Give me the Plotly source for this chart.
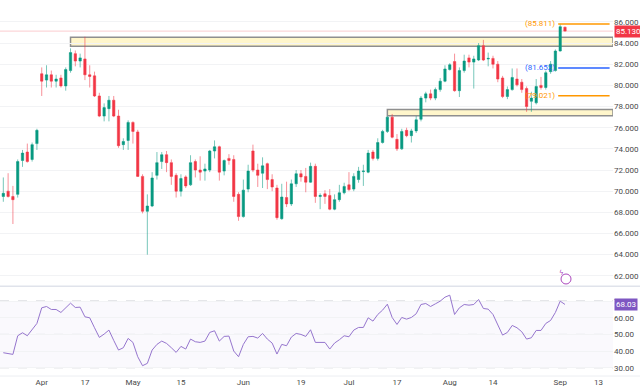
import pandas as pd
import plotly.graph_objects as go

# ---------------- data ----------------
dates = [d.strftime("%Y-%m-%d") for d in pd.bdate_range("2023-03-22", "2023-09-04")
         if d.strftime("%Y-%m-%d") != "2023-04-07"]

opens = [69.5, 70.0, 69.5, 69.7, 72.9, 73.7, 73.0, 74.5, 81.1, 80.5,
         81.0, 80.4, 80.7, 79.95, 81.4, 83.0, 82.3, 82.5, 81.0, 80.9,
         79.0, 77.1, 77.8, 78.6, 77.1, 74.4, 74.8, 76.5, 75.6, 71.4,
         68.1, 68.6, 71.5, 72.8, 73.45, 72.7, 71.5, 70.0, 71.35, 70.6,
         72.8, 72.0, 71.9, 72.0, 73.8, 74.2, 71.9, 73.1, 73.0, 69.7,
         67.6, 70.2, 73.8, 72.0, 71.7, 72.6, 71.1, 70.3, 67.4, 69.4,
         68.8, 70.7, 71.65, 71.4, 70.85, 72.35, 69.5, 69.75, 69.6, 68.3,
         69.2, 69.85, 70.6, 70.2, 71.1, 71.85, 71.8, 73.7, 73.1, 74.6,
         75.65, 77.0, 74.9, 74.0, 75.75, 75.25, 75.7, 76.8, 78.8, 79.2,
         78.8, 79.6, 80.4, 81.5, 82.25, 79.5, 81.4, 82.6, 82.2, 82.4,
         83.75, 82.5, 82.55, 82.0, 80.7, 78.95, 79.6, 80.6, 80.3, 79.7,
         78.5, 78.35, 80.0, 79.8, 81.3, 81.4, 83.25, 85.5]
highs = [71.3, 71.7, 70.5, 73.0, 73.9, 74.5, 74.6, 75.9, 81.7, 81.9,
         81.4, 81.0, 81.0, 81.7, 83.5, 83.3, 83.0, 84.6, 81.9, 81.3,
         79.3, 78.3, 79.0, 79.0, 77.7, 75.0, 76.7, 76.6, 75.8, 71.6,
         69.7, 71.8, 73.7, 73.7, 73.8, 73.0, 71.7, 71.6, 71.5, 73.4,
         73.0, 73.3, 72.6, 73.9, 74.8, 74.3, 73.0, 73.5, 73.4, 69.9,
         71.1, 72.5, 74.4, 72.6, 73.2, 72.7, 71.6, 70.6, 70.7, 70.9,
         71.1, 72.0, 72.0, 72.2, 72.7, 72.6, 69.8, 70.1, 70.2, 69.7,
         70.6, 70.8, 71.8, 71.7, 72.3, 72.5, 73.9, 73.9, 75.0, 75.8,
         77.1, 77.3, 75.4, 75.9, 76.0, 75.9, 77.1, 79.0, 79.4, 79.6,
         79.8, 80.7, 81.9, 82.1, 83.0, 81.7, 82.9, 82.9, 82.8, 84.0,
         84.3, 83.1, 82.8, 82.3, 80.9, 79.9, 81.6, 81.6, 80.6, 79.9,
         79.4, 80.6, 80.8, 81.4, 82.3, 83.4, 85.811, 85.55]
lows = [69.0, 69.4, 66.9, 69.4, 72.3, 72.7, 72.8, 73.9, 79.0, 79.8,
        79.8, 79.8, 79.8, 79.5, 81.2, 81.8, 81.7, 80.5, 79.8, 78.9,
        77.0, 76.6, 76.6, 77.0, 74.1, 73.9, 73.9, 74.5, 71.35, 67.9,
        64.0, 68.5, 71.1, 72.1, 71.8, 70.6, 69.4, 69.5, 70.3, 70.5,
        71.3, 71.0, 71.0, 71.8, 73.1, 71.0, 71.5, 72.5, 69.0, 67.2,
        67.5, 69.9, 71.8, 70.4, 70.3, 70.2, 70.0, 67.3, 67.3, 68.5,
        68.6, 70.4, 70.9, 69.9, 70.8, 68.9, 68.3, 68.8, 68.2, 68.2,
        69.0, 69.7, 70.0, 70.0, 70.8, 70.5, 71.7, 72.9, 72.9, 74.5,
        75.5, 75.0, 73.8, 73.9, 75.1, 74.6, 75.5, 76.6, 78.4, 78.6,
        78.6, 79.4, 80.3, 81.4, 79.4, 78.9, 81.2, 81.7, 79.7, 82.3,
        82.3, 81.8, 81.6, 80.3, 78.8, 78.7, 79.5, 79.9, 79.3, 77.5,
        77.5, 78.2, 79.6, 79.6, 81.1, 81.3, 83.2, 85.1]
closes = [69.8, 69.5, 69.2, 72.8, 73.6, 72.8, 74.4, 75.75, 80.4, 81.0,
          80.4, 80.6, 79.95, 81.5, 83.1, 82.3, 82.6, 81.0, 80.85, 79.0,
          77.1, 77.9, 78.6, 77.1, 74.3, 74.7, 76.5, 75.65, 71.4, 68.1,
          68.6, 71.25, 72.7, 73.45, 72.7, 71.4, 70.0, 71.2, 70.5, 72.7,
          72.0, 71.8, 72.1, 73.8, 74.2, 71.8, 72.9, 72.9, 69.5, 67.6,
          70.1, 71.9, 72.0, 71.5, 72.4, 71.1, 70.4, 67.5, 69.45, 68.8,
          70.7, 71.65, 71.35, 70.85, 72.35, 69.5, 69.6, 69.5, 68.3, 69.2,
          69.85, 70.45, 70.15, 71.4, 71.9, 71.9, 73.6, 73.1, 74.6, 75.65,
          77.0, 75.1, 74.0, 75.65, 75.25, 75.7, 76.75, 78.8, 79.2, 78.8,
          79.6, 80.4, 81.55, 81.95, 79.5, 81.4, 82.3, 82.2, 82.5, 83.75,
          82.4, 82.55, 82.0, 80.6, 78.95, 79.6, 80.75, 80.05, 79.6, 78.0,
          78.8, 79.9, 79.8, 81.2, 82.0, 83.25, 85.55, 85.13]
rsi = [39.0, 38.6, 38.0, 49.2, 51.0, 49.2, 53.2, 56.6, 66.0, 66.8,
       65.0, 65.0, 63.2, 66.0, 68.8, 66.2, 66.4, 60.6, 60.0, 54.0,
       48.2, 50.2, 52.6, 46.4, 40.6, 42.0, 47.6, 45.2, 36.6, 31.2,
       32.6, 40.6, 44.0, 46.0, 44.6, 42.0, 39.2, 42.8, 41.2, 47.2,
       45.6, 45.2, 46.0, 51.2, 52.2, 46.0, 48.8, 49.0, 40.0, 36.6,
       44.0, 48.6, 48.8, 47.8, 50.6, 47.2, 44.8, 38.2, 44.0, 43.2,
       48.4, 50.6, 50.0, 48.8, 52.8, 45.2, 45.2, 45.2, 41.2, 44.8,
       46.8, 49.2, 48.6, 52.6, 54.2, 54.2, 60.0, 58.0, 62.0, 64.6,
       68.2, 60.2, 56.0, 60.2, 59.2, 60.2, 62.4, 68.0, 68.6, 66.8,
       68.4, 70.0, 72.4, 73.6, 62.0, 66.0, 68.0, 67.6, 68.0, 71.0,
       65.6, 65.2, 62.0, 56.0, 49.6, 51.2, 55.4, 54.0, 51.6, 47.2,
       48.0, 52.4, 52.4, 56.6, 58.4, 63.2, 70.0, 68.03]

tick_dates = ["2023-04-03", "2023-04-17", "2023-05-01", "2023-05-15", "2023-06-01",
              "2023-06-19", "2023-07-03", "2023-07-17", "2023-08-01", "2023-08-14",
              "2023-09-01", "2023-09-13"]
tick_labels = ["Apr", "17", "May", "15", "Jun", "19", "Jul", "17", "Aug", "14", "Sep", "13"]

zone_upper = (83.7, 84.55)
zone_upper_start = "2023-04-12"
zone_lower = (77.12, 77.72)
zone_lower_start = "2023-07-13"
levels = [85.811, 81.652, 79.021]
level_colors = ["#FF9800", "#2962FF", "#FF9800"]
level_start = "2023-08-31 14:00"
level_end = "2023-09-15 07:00"
last_price = 85.13
last_rsi = 68.03

x_range = ["2023-03-21 07:26", "2023-09-18 00:00"]

GREEN = "#089981"
RED = "#F23645"
TXT = "#4a4a4a"
FONT = "Roboto"

fig = go.Figure()

fig.add_trace(go.Candlestick(
    x=dates, open=opens, high=highs, low=lows, close=closes,
    increasing=dict(line=dict(color="rgba(8,153,129,0.55)", width=1), fillcolor=GREEN),
    decreasing=dict(line=dict(color="rgba(242,54,69,0.55)", width=1), fillcolor=RED),
    whiskerwidth=0, xaxis="x", yaxis="y", showlegend=False, hoverinfo="skip"))

fig.add_trace(go.Scatter(x=dates, y=rsi, mode="lines",
                         line=dict(color="#9575CD", width=1),
                         xaxis="x2", yaxis="y2", showlegend=False, hoverinfo="skip"))

shapes = []
shapes.append(dict(type="rect", xref="x2 domain", yref="y2", x0=0, x1=1, y0=30, y1=70,
                   fillcolor="rgba(126,87,194,0.035)", line=dict(width=0), layer="below"))
for lv in (70, 50, 30):
    shapes.append(dict(type="line", xref="x2 domain", yref="y2", x0=0, x1=1, y0=lv, y1=lv,
                       line=dict(color="#b2b5be", width=1, dash="dash"), layer="below"))
for (lo, hi), start in ((zone_upper, zone_upper_start), (zone_lower, zone_lower_start)):
    shapes.append(dict(type="rect", xref="x", yref="y", x0=start, x1=x_range[1], y0=lo, y1=hi,
                       fillcolor="rgba(255,238,160,0.55)", line=dict(color="#8f8f8f", width=1.5),
                       layer="below"))
shapes.append(dict(type="line", xref="x domain", yref="y", x0=0, x1=1, y0=last_price, y1=last_price,
                   line=dict(color="rgba(242,54,69,0.25)", width=1), layer="below"))
for lv, col in zip(levels, level_colors):
    shapes.append(dict(type="line", xref="x", yref="y", x0=level_start, x1=level_end, y0=lv, y1=lv,
                       line=dict(color=col, width=1.5)))
shapes.append(dict(type="line", xref="paper", yref="paper", x0=0, x1=1.05, y0=0.2385, y1=0.2385,
                   line=dict(color="#e0e3eb", width=1.5)))
shapes.append(dict(type="line", xref="paper", yref="paper", x0=0, x1=1.05, y0=0, y1=0,
                   line=dict(color="#eceef2", width=1)))
shapes.append(dict(type="circle", xref="paper", yref="paper", x0=0.9152, x1=0.9315,
                   y0=0.2447, y1=0.2713, line=dict(color="#AB47BC", width=1), fillcolor="white"))

annotations = []
for lv, col in zip(levels, level_colors):
    annotations.append(dict(x=level_start, y=lv, xref="x", yref="y", text=f"({lv:.3f})",
                            showarrow=False, xanchor="right", yanchor="middle", xshift=-1,
                            font=dict(family=FONT, size=8, color=col)))
annotations.append(dict(x=1, y=last_price, xref="paper", yref="y", text=f"{last_price:.3f}",
                        showarrow=False, xanchor="left", yanchor="middle", xshift=1,
                        bgcolor=RED, borderpad=1, font=dict(family=FONT, size=8, color="white")))
annotations.append(dict(x=1, y=last_rsi, xref="paper", yref="y2", text=f"{last_rsi:.2f}",
                        showarrow=False, xanchor="left", yanchor="middle", xshift=1,
                        bgcolor="#7E57C2", borderpad=1, font=dict(family=FONT, size=8, color="white")))
annotations.append(dict(x=0.9233, y=0.258, xref="paper", yref="paper", text="ϟ",
                        showarrow=False, font=dict(family="DejaVu Sans", size=7, color="#AB47BC")))

fig.update_layout(
    width=640, height=388,
    margin=dict(l=0, r=27, t=0, b=12),
    paper_bgcolor="white", plot_bgcolor="white",
    font=dict(family=FONT, size=8, color=TXT),
    hovermode=False,
    xaxis=dict(domain=[0, 1], range=x_range, type="date",
               rangebreaks=[dict(bounds=["sat", "mon"]), dict(values=["2023-04-07"])],
               rangeslider=dict(visible=False), showticklabels=False, showgrid=False,
               zeroline=False, anchor="y", fixedrange=True),
    xaxis2=dict(domain=[0, 1], range=x_range, type="date", matches="x",
                rangebreaks=[dict(bounds=["sat", "mon"]), dict(values=["2023-04-07"])],
                tickmode="array", tickvals=tick_dates, ticktext=tick_labels,
                showgrid=False, zeroline=False, anchor="y2", ticks="",
                tickfont=dict(family=FONT, size=8, color=TXT)),
    yaxis=dict(domain=[0.2402, 1], range=[61.07, 88.07], side="right", anchor="x",
               tickmode="linear", tick0=62, dtick=2, tickformat=".3f",
               gridcolor="#f2f3f5", zeroline=False, showline=False, ticks="",
               tickfont=dict(family=FONT, size=8, color=TXT)),
    yaxis2=dict(domain=[0, 0.2375], range=[25.0, 78.7], side="right", anchor="x2",
                tickmode="array", tickvals=[30, 40, 50, 60, 70], tickformat=".2f",
                gridcolor="#f2f3f5", zeroline=False, showline=False, ticks="",
                tickfont=dict(family=FONT, size=8, color=TXT)),
    shapes=shapes, annotations=annotations,
)

fig.write_html("out.html", config={"displayModeBar": False},
               post_script="document.body.style.margin='0';document.body.style.padding='0';"
                           "document.body.style.overflow='hidden';")
